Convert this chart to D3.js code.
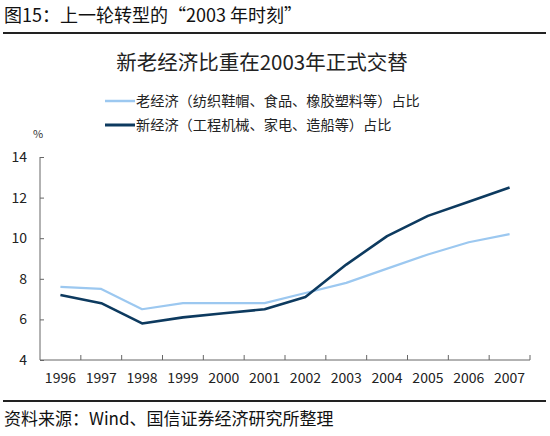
<!DOCTYPE html>
<html><head><meta charset="utf-8">
<script src="https://cdn.jsdelivr.net/npm/d3@7"></script>
<style>body{margin:0;background:#fff}svg{display:block}</style>
</head><body>
<script>
const years = ["1996","1997","1998","1999","2000","2001","2002","2003","2004","2005","2006","2007"];
const oldEconomy = [7.6,7.5,6.5,6.8,6.8,6.8,7.3,7.8,8.5,9.2,9.8,10.2];
const newEconomy = [7.2,6.8,5.8,6.1,6.3,6.5,7.1,8.7,10.1,11.1,11.8,12.5];
const yTicks = [4,6,8,10,12,14];
const seriesNames = ["老经济（纺织鞋帽、食品、橡胶塑料等）占比","新经济（工程机械、家电、造船等）占比"];
const colors = ["#9cc8f0","#0d3a5f"];

const W=550,H=436;
const font = "'Noto Sans CJK SC','Noto Sans',sans-serif";
const svg = d3.select("body").append("svg").attr("width",W).attr("height",H).style("font-family",font);

svg.append("text").attr("x",4).attr("y",22).attr("font-size",18).attr("fill","#111").text("图15：上一轮转型的“2003 年时刻”");
svg.append("line").attr("x1",3).attr("x2",546).attr("y1",33).attr("y2",33).attr("stroke","#222").attr("stroke-width",2);

svg.append("text").attr("x",262).attr("y",70).attr("text-anchor","middle").attr("font-size",20.5).attr("fill","#222").text("新老经济比重在2003年正式交替");

const leg = svg.append("g");
seriesNames.forEach((n,i)=>{
  const y = 101 + i*24;
  leg.append("line").attr("x1",105).attr("x2",135).attr("y1",y).attr("y2",y).attr("stroke",colors[i]).attr("stroke-width",i?3:2.5);
  leg.append("text").attr("x",136).attr("y",y+5).attr("font-size",14.2).attr("fill","#222").text(n);
});
svg.append("text").attr("x",33).attr("y",138).attr("font-size",11).attr("fill","#333").text("%");

const x = d3.scaleBand().domain(years).range([40,530]);
const y = d3.scaleLinear().domain([4,14]).range([360,157]);

const yAx = svg.append("g").attr("transform","translate(40,0)")
  .call(d3.axisLeft(y).tickValues(yTicks).tickSize(-4).tickPadding(13).tickFormat(d3.format("d")));
yAx.selectAll("text").attr("font-size",14).attr("fill","#222").attr("font-family",font);
yAx.selectAll("line,path").attr("stroke","#666");
yAx.select(".domain").attr("d","M0,157V360");

const xAx = svg.append("g").attr("transform","translate(0,360)")
  .call(d3.axisBottom(x).tickSize(0).tickPadding(13));
xAx.selectAll("text").attr("font-size",14).attr("fill","#222").attr("font-family",font);
xAx.select(".domain").attr("stroke","#666").attr("d","M40,0H530");
const tickPos = years.slice(1).map(d=>x(d)).concat([x.range()[1]]);
xAx.selectAll(".xt").data(tickPos).enter().append("line")
  .attr("x1",d=>d).attr("x2",d=>d).attr("y1",0).attr("y2",-5).attr("stroke","#666");

const line = d3.line().x((d,i)=>x(years[i])+x.bandwidth()/2).y(d=>y(d));
[oldEconomy,newEconomy].forEach((s,i)=>{
  svg.append("path").attr("d",line(s)).attr("fill","none").attr("stroke",colors[i]).attr("stroke-width",i?2.6:2.2).attr("stroke-linejoin","round");
});

svg.append("line").attr("x1",3).attr("x2",546).attr("y1",401).attr("y2",401).attr("stroke","#222").attr("stroke-width",2);
svg.append("text").attr("x",4).attr("y",425).attr("font-size",17).attr("fill","#111").text("资料来源：Wind、国信证券经济研究所整理");
</script>
</body></html>
